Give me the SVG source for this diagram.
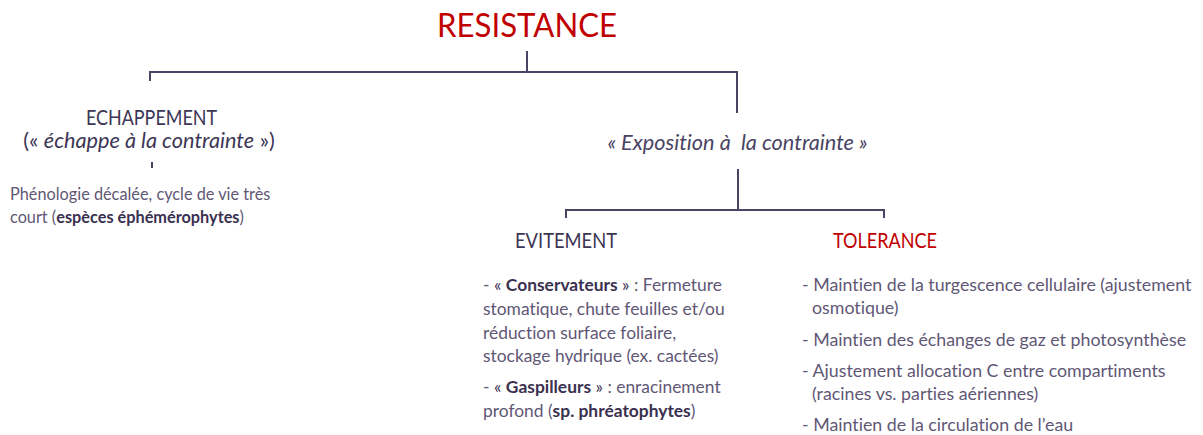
<svg xmlns="http://www.w3.org/2000/svg" width="1203" height="435" viewBox="0 0 1203 435">
<style>
text { font-family: Lato, "Liberation Sans", sans-serif; font-variant-ligatures: none; font-feature-settings: "liga" 0, "clig" 0; }
.title { font-size: 33px; fill: #c00000; }
.head { font-size: 20.5px; fill: #3d3656; }
.red { fill: #c00000; }
.it { font-size: 21.7px; font-style: italic; fill: #4a4463; }
.body { font-size: 16.3px; fill: #5f5775; }
.ev { font-size: 17.4px; }
.tol { font-size: 17.8px; }
.b { font-weight: bold; fill: #3a3050; }
.dk { fill: #3a3050; }
.conn line { stroke: #4b4565; stroke-width: 2; }
</style>
<rect width="1203" height="435" fill="#ffffff"/>
<g id="connectors" class="conn">
  <line x1="527" y1="51" x2="527" y2="72"/>
  <line x1="149" y1="72" x2="738" y2="72"/>
  <line x1="150" y1="71" x2="150" y2="81"/>
  <line x1="737" y1="71" x2="737" y2="113"/>
  <line x1="152" y1="162" x2="152" y2="168"/>
  <line x1="738" y1="169" x2="738" y2="210"/>
  <line x1="565" y1="210" x2="885" y2="210"/>
  <line x1="566" y1="209" x2="566" y2="218"/>
  <line x1="884" y1="209" x2="884" y2="218"/>
</g>
<g id="resistance">
  <text class="title" x="437" y="37" textLength="180" lengthAdjust="spacingAndGlyphs">RESISTANCE</text>
</g>
<g id="echappement">
  <text class="head" x="86" y="125" textLength="131" lengthAdjust="spacingAndGlyphs">ECHAPPEMENT</text>
  <text class="head" x="149" y="148" text-anchor="middle" style="font-size:21.7px">(« <tspan font-style="italic">échappe à la contrainte</tspan> »)</text>
  <text class="body" x="10" y="200">Phénologie décalée, cycle de vie très</text>
  <text class="body" x="10" y="223">court (<tspan class="b">espèces éphémérophytes</tspan>)</text>
</g>
<g id="exposition">
  <text class="it" x="737.5" y="150" text-anchor="middle" xml:space="preserve">« Exposition à  la contrainte »</text>
</g>
<g id="evitement">
  <text class="head" x="515" y="248" textLength="102" lengthAdjust="spacingAndGlyphs">EVITEMENT</text>
  <text class="body ev" x="483" y="291">- <tspan class="dk">« </tspan><tspan class="b">Conservateurs</tspan><tspan class="dk"> »</tspan> : Fermeture</text>
  <text class="body ev" x="483" y="315">stomatique, chute feuilles et/ou</text>
  <text class="body ev" x="483" y="339">réduction surface foliaire,</text>
  <text class="body ev" x="483" y="362">stockage hydrique (ex. cactées)</text>
  <text class="body ev" x="483" y="393">- <tspan class="dk">« </tspan><tspan class="b">Gaspilleurs</tspan><tspan class="dk"> »</tspan> : enracinement</text>
  <text class="body ev" x="483" y="417">profond (<tspan class="b">sp. phréatophytes</tspan>)</text>
</g>
<g id="tolerance">
  <text class="head red" x="833" y="248" textLength="104" lengthAdjust="spacingAndGlyphs">TOLERANCE</text>
  <text class="body tol" x="802" y="291">- Maintien de la turgescence cellulaire (ajustement</text>
  <text class="body tol" x="812" y="314">osmotique)</text>
  <text class="body tol" x="802" y="346">- Maintien des échanges de gaz et photosynthèse</text>
  <text class="body tol" x="802" y="377">- Ajustement allocation C entre compartiments</text>
  <text class="body tol" x="812" y="400">(racines vs. parties aériennes)</text>
  <text class="body tol" x="802" y="431">- Maintien de la circulation de l’eau</text>
</g>
</svg>
